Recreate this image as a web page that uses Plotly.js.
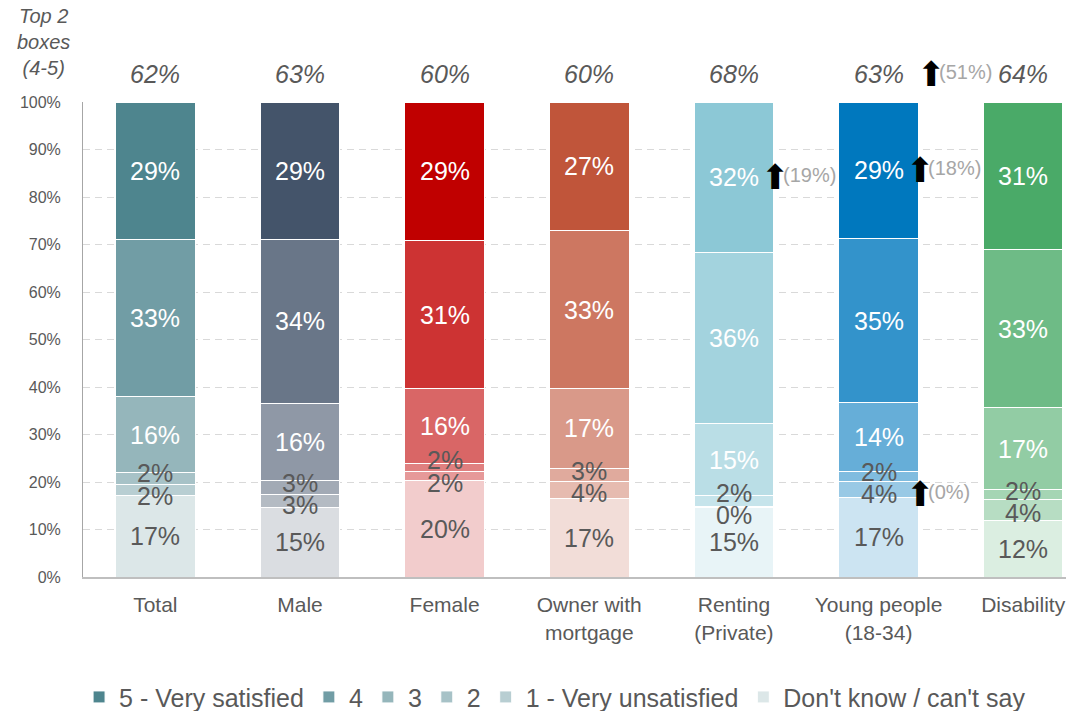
<!DOCTYPE html>
<html>
<head>
<meta charset="utf-8">
<script src="https://cdn.plot.ly/plotly-3.0.1.min.js"></script>
<style>html,body{margin:0;padding:0;background:#fff;}#chart{width:1066px;height:711px;}</style>
</head>
<body>
<div id="chart"></div>
<script>
// ---------- data ----------
const categories = ['Total', 'Male', 'Female', 'Owner with<br>mortgage', 'Renting<br>(Private)', 'Young people<br>(18-34)', 'Disability'];
const dontKnow   = [17.1, 14.6, 20.4, 16.6, 14.6, 16.7, 12.0];
const veryUnsat  = [2.4, 2.8, 1.9, 3.6, 0.3, 3.5, 4.4];
const level2     = [2.4, 3.0, 1.6, 2.7, 2.2, 2.1, 2.0];
const level3     = [16.1, 16.2, 15.8, 16.8, 15.2, 14.4, 17.2];
const level4     = [33.0, 34.4, 31.1, 33.2, 36.0, 34.6, 33.4];
const verySat    = [29.0, 29.0, 29.2, 27.1, 31.7, 28.7, 31.0];
const seriesNames = ["Don't know / can't say", '1 - Very unsatisfied', '2', '3', '4', '5 - Very satisfied'];

// change notes (previous wave values shown next to arrows)
const noteCats   = ['Renting<br>(Private)', 'Young people<br>(18-34)', 'Young people<br>(18-34)', 'Young people<br>(18-34)'];
const noteLevels = ['5 - Very satisfied', '5 - Very satisfied', '1 - Very unsatisfied', 'top2'];
const notePrev   = ['(19%)', '(18%)', '(0%)', '(51%)'];

// ---------- styling ----------
const FONT = 'Liberation Sans, Arial, sans-serif';
const baseColors = ['#4E858E', '#44546A', '#C00000', '#C0553A', '#8CC8D6', '#0078BE', '#4AAA68'];
const tintLevels = [0.2, 0.4, 0.5, 0.6, 0.8, 1.0];   // DK,1,2,3,4,5
const textColors = ['#595959', '#595959', '#595959', '#ffffff', '#ffffff', '#ffffff'];
const LABEL_GAP = 4.7;   // minimum spacing between stacked labels, in axis units

function tint(hex, f) {
  const r = parseInt(hex.slice(1, 3), 16), g = parseInt(hex.slice(3, 5), 16), b = parseInt(hex.slice(5, 7), 16);
  const m = c => Math.round(255 - f * (255 - c));
  return 'rgb(' + m(r) + ',' + m(g) + ',' + m(b) + ')';
}

const series = [dontKnow, veryUnsat, level2, level3, level4, verySat];

const traces = series.map((vals, s) => ({
  type: 'bar',
  name: seriesNames[s],
  x: categories,
  y: vals,
  width: 0.55,
  marker: {
    color: baseColors.map(c => tint(c, tintLevels[s])),
    line: {color: '#ffffff', width: 1}
  },
  textposition: 'none',
  cliponaxis: false,
  hoverinfo: 'skip'
}));

// label positions: segment centres, spread apart where segments are thin
const labelPos = categories.map((c, i) => {
  const pos = [];
  let cum = 0;
  series.forEach(v => { pos.push(cum + v[i] / 2); cum += v[i]; });
  for (let it = 0; it < 60; it++) {
    for (let s = 0; s < pos.length - 1; s++) {
      const d = pos[s + 1] - pos[s];
      if (d < LABEL_GAP) {
        const sh = (LABEL_GAP - d) / 2;
        pos[s] -= sh; pos[s + 1] += sh;
      }
    }
  }
  return pos;
});

const annotations = [];

// segment value labels
series.forEach((vals, s) => {
  vals.forEach((v, i) => {
    annotations.push({
      x: categories[i], y: labelPos[i][s], xref: 'x', yref: 'y',
      xanchor: 'center', yanchor: 'middle',
      text: Math.round(v) + '%', showarrow: false,
      font: {family: FONT, size: 25, color: textColors[s]}
    });
  });
});

// Top-2 box labels
categories.forEach((c, i) => {
  const t = Math.round(level4[i] + verySat[i]);
  annotations.push({
    x: c, y: 100, xref: 'x', yref: 'y', yanchor: 'middle', yshift: 28,
    text: '<i>' + t + '%</i>', showarrow: false,
    font: {family: FONT, size: 25, color: '#595959'}
  });
});

// corner caption
annotations.push({
  xref: 'paper', yref: 'paper', x: -0.040, y: 1.127, xanchor: 'center', yanchor: 'middle',
  text: '<i>Top 2<br>boxes<br>(4-5)</i>', showarrow: false, align: 'center',
  font: {family: FONT, size: 20, color: '#595959'}
});

// arrows with previous values
noteCats.forEach((c, k) => {
  const i = categories.indexOf(c);
  let y, yshift = 0, arrowOff, txtOff;
  if (noteLevels[k] === 'top2') {
    y = 100; yshift = 28; arrowOff = 36; txtOff = 58;
  } else {
    const s = seriesNames.indexOf(noteLevels[k]);
    y = labelPos[i][s];
    arrowOff = 25; txtOff = 47;
  }
  annotations.push({
    x: c, y: y, xref: 'x', yref: 'y', xanchor: 'left', yanchor: 'middle',
    xshift: arrowOff, yshift: yshift, text: '⬆', showarrow: false,
    font: {family: 'DejaVu Sans', size: 34, color: '#000000'}
  });
  annotations.push({
    x: c, y: y, xref: 'x', yref: 'y', xanchor: 'left', yanchor: 'middle',
    xshift: txtOff, yshift: yshift + 2, text: notePrev[k], showarrow: false,
    font: {family: FONT, size: 20, color: '#A6A6A6'}
  });
});

const layout = {
  width: 1066, height: 711,
  margin: {l: 83, r: 0, t: 102, b: 134, pad: 0, autoexpand: false},
  paper_bgcolor: '#ffffff', plot_bgcolor: '#ffffff',
  barmode: 'stack',
  font: {family: FONT, color: '#595959'},
  showlegend: true,
  legend: {
    orientation: 'h', traceorder: 'reversed',
    x: -0.004, xanchor: 'left', y: -0.253, yanchor: 'middle',
    font: {family: FONT, size: 25, color: '#595959'},
    itemclick: false
  },
  xaxis: {
    type: 'category', range: [-0.5, 6.296], fixedrange: true, automargin: false,
    showline: true, linecolor: '#BFBFBF', linewidth: 2,
    showgrid: false, ticks: '', ticklabelstandoff: 8,
    tickfont: {family: FONT, size: 21, color: '#595959'}
  },
  yaxis: {
    range: [0, 100], dtick: 10, tick0: 0, ticksuffix: '%', fixedrange: true, automargin: false,
    showline: true, linecolor: '#A6A6A6', linewidth: 1,
    showgrid: true, gridcolor: '#D9D9D9', gridwidth: 1, griddash: '7px,5px',
    zeroline: false, ticks: '', ticklabelstandoff: 18,
    tickfont: {family: FONT, size: 16, color: '#595959'}
  },
  annotations: annotations
};

Plotly.newPlot('chart', traces, layout, {displayModeBar: false, staticPlot: true});
</script>
</body>
</html>
